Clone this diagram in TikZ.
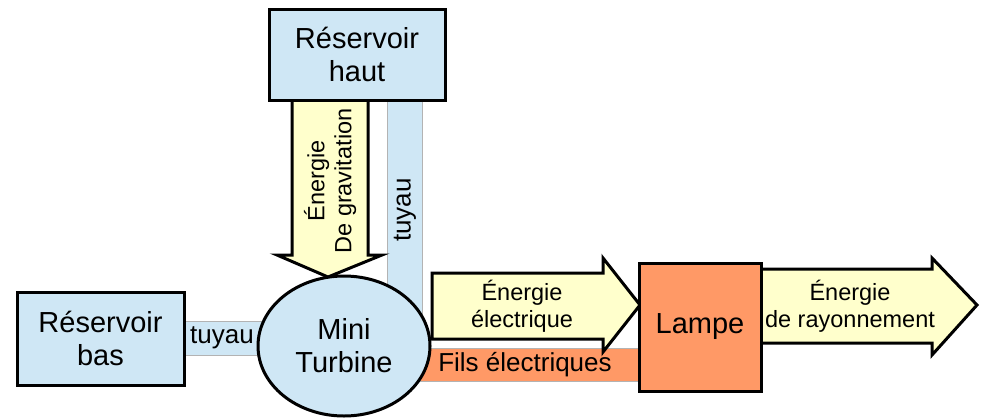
\documentclass[tikz,border=0pt]{standalone}
\usepackage{fontspec}
\setmainfont{Liberation Sans}
\definecolor{pblue}{HTML}{CFE7F5}
\definecolor{pyel}{HTML}{FFFFCC}
\definecolor{porange}{HTML}{FF9966}
\definecolor{pgrey}{HTML}{B3B3B3}
\usetikzlibrary{shapes.geometric}
\begin{document}
\begin{tikzpicture}[x=1pt,y=-1pt,
  box/.style={draw, line width=3pt, fill=pblue, inner sep=0pt, align=center, font=\fontsize{29}{33}\selectfont},
  pipe/.style={draw=pgrey, line width=0.8pt, fill=pblue},
  bigarrow/.style={draw, line width=3pt, fill=pyel, line join=miter},
  arrowtext/.style={align=center, font=\fontsize{23.5}{27}\selectfont, inner sep=0pt},
  pipetext/.style={align=center, font=\fontsize{26}{28}\selectfont, inner sep=0pt}]
\useasboundingbox (0,0) rectangle (981,418);
% pipes
\draw[pipe] (387,100) rectangle (422,320);
\draw[pipe] (180,321) rectangle (290,355);
\draw[pipe, fill=porange] (420,348) rectangle (645,381);
% arrows
\draw[bigarrow] (292,100) -- (368,100) -- (368,255) -- (382,255) -- (328,277) -- (277,255) -- (292,255) -- cycle;
\draw[bigarrow] (432,273) -- (603,273) -- (603,258) -- (640,305) -- (603,352) -- (603,339) -- (432,339) -- cycle;
\draw[bigarrow] (761,269) -- (932,269) -- (932,258) -- (977,305) -- (932,355) -- (932,343) -- (761,343) -- cycle;
% boxes
\node[box, minimum width=176pt, minimum height=91pt] (haut) at (357,54.5) {Réservoir\\haut};
\node[box, minimum width=167pt, minimum height=93pt] (bas) at (100.5,338.5) {Réservoir\\bas};
\node[box, ellipse, minimum width=172pt, minimum height=140pt] (turb) at (344,346) {Mini\\Turbine};
\node[box, fill=porange, minimum width=122pt, minimum height=128pt] (lampe) at (700,327) {Lampe};
% texts
\node[arrowtext, rotate=90] (grav) at (330,181) {Énergie\\De gravitation};
\node[pipetext, rotate=90] (tv) at (405,210) {tuyau};
\node[pipetext] (th) at (222,338) {tuyau};
\node[arrowtext] (elec) at (522,306) {Énergie\\électrique};
\node[arrowtext] (ray) at (850,306) {Énergie\\de rayonnement};
\node[pipetext] (fils) at (525,365) {Fils électriques};
\end{tikzpicture}
\end{document}
